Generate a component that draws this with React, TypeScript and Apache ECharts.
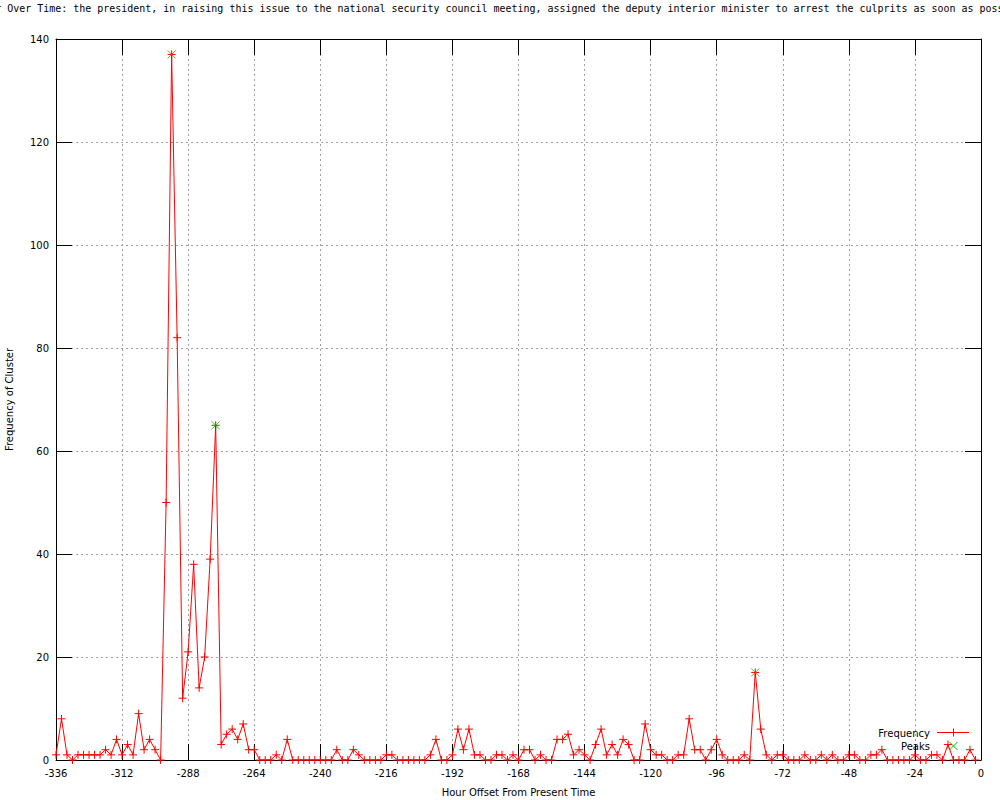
import React, { useEffect, useRef } from "react";
import * as echarts from "echarts";

const TITLE =
  "Cluster Over Time: the president, in raising this issue to the national security council meeting, assigned the deputy interior minister to arrest the culprits as soon as possible";
const X_LABEL = "Hour Offset From Present Time";
const Y_LABEL = "Frequency of Cluster";
const SERIES_NAMES = ["Frequency", "Peaks"];

const HOURS = [
  -336, -334, -332, -330, -328, -326, -324, -322, -320, -318, -316, -314, -312, -310, -308, -306,
  -304, -302, -300, -298, -296, -294, -292, -290, -288, -286, -284, -282, -280, -278, -276, -274,
  -272, -270, -268, -266, -264, -262, -260, -258, -256, -254, -252, -250, -248, -246, -244, -242,
  -240, -238, -236, -234, -232, -230, -228, -226, -224, -222, -220, -218, -216, -214, -212, -210,
  -208, -206, -204, -202, -200, -198, -196, -194, -192, -190, -188, -186, -184, -182, -180, -178,
  -176, -174, -172, -170, -168, -166, -164, -162, -160, -158, -156, -154, -152, -150, -148, -146,
  -144, -142, -140, -138, -136, -134, -132, -130, -128, -126, -124, -122, -120, -118, -116, -114,
  -112, -110, -108, -106, -104, -102, -100, -98, -96, -94, -92, -90, -88, -86, -84, -82,
  -80, -78, -76, -74, -72, -70, -68, -66, -64, -62, -60, -58, -56, -54, -52, -50,
  -48, -46, -44, -42, -40, -38, -36, -34, -32, -30, -28, -26, -24, -22, -20, -18,
  -16, -14, -12, -10, -8, -6, -4, -2,
];

const FREQUENCY = [
  1, 8, 1, 0, 1, 1, 1, 1, 1, 2, 1, 4, 1, 3, 1, 9,
  2, 4, 2, 0, 50, 137, 82, 12, 21, 38, 14, 20, 39, 65, 3, 5,
  6, 4, 7, 2, 2, 0, 0, 0, 1, 0, 4, 0, 0, 0, 0, 0,
  0, 0, 0, 2, 0, 0, 2, 1, 0, 0, 0, 0, 1, 1, 0, 0,
  0, 0, 0, 0, 1, 4, 0, 0, 1, 6, 2, 6, 1, 1, 0, 0,
  1, 1, 0, 1, 0, 2, 2, 0, 1, 0, 0, 4, 4, 5, 1, 2,
  1, 0, 3, 6, 1, 3, 1, 4, 3, 0, 0, 7, 2, 1, 1, 0,
  0, 1, 1, 8, 2, 2, 0, 2, 4, 1, 0, 0, 0, 1, 0, 17,
  6, 1, 0, 1, 1, 0, 0, 0, 1, 0, 0, 1, 0, 1, 0, 0,
  1, 1, 0, 0, 1, 1, 2, 0, 0, 0, 0, 0, 1, 0, 0, 1,
  1, 0, 3, 0, 0, 0, 2, 0,
];

const PEAK_HOURS = [-294, -278, -82];
const PEAK_VALUES = [137, 65, 17];

const X_MIN = -336;
const X_MAX = 0;
const X_STEP = 24;
const Y_MIN = 0;
const Y_MAX = 140;
const Y_STEP = 20;

const RED = "#ff0000";
const GREEN = "#00c000";
const PLUS = "path://M0,4L8,4M4,0L4,8";
const CROSS = "path://M0,0L8,8M8,0L0,8";
const LABEL_FONT = "DejaVu Sans";

export default function App() {
  const ref = useRef<HTMLDivElement>(null);

  useEffect(() => {
    if (!ref.current) return;
    const chart = echarts.init(ref.current, undefined, { renderer: "svg" });

    const freqData = HOURS.map((h, i) => [h, FREQUENCY[i]]);
    const peakData = PEAK_HOURS.map((h, i) => [h, PEAK_VALUES[i]]);

    const tickStyle = { show: true, inside: true, length: 16, lineStyle: { color: "#000", width: 1 } };
    const axisLine = { show: true, onZero: false, lineStyle: { color: "#000", width: 1 } };
    const grid = { show: true, lineStyle: { color: "#a0a0a0", width: 1, type: [2, 3] as any } };

    chart.setOption({
      animation: false,
      backgroundColor: "#ffffff",
      grid: {
        left: 56,
        right: 19,
        top: 39,
        bottom: 40,
        containLabel: false,
        outerBoundsMode: "none",
      },
      xAxis: [
        {
          type: "value",
          min: X_MIN,
          max: X_MAX,
          interval: X_STEP,
          position: "bottom",
          axisLine,
          axisTick: tickStyle,
          splitLine: grid,
          axisLabel: { color: "#000", fontFamily: LABEL_FONT, fontSize: 10, margin: 8 },
          name: X_LABEL,
          nameLocation: "middle",
          nameGap: 27,
          nameTextStyle: { color: "#000", fontFamily: LABEL_FONT, fontSize: 10 },
        },
        {
          type: "value",
          min: X_MIN,
          max: X_MAX,
          interval: X_STEP,
          position: "top",
          axisLine,
          axisTick: tickStyle,
          splitLine: { show: false },
          axisLabel: { show: false },
        },
      ],
      yAxis: [
        {
          type: "value",
          min: Y_MIN,
          max: Y_MAX,
          interval: Y_STEP,
          position: "left",
          axisLine,
          axisTick: tickStyle,
          splitLine: grid,
          axisLabel: { color: "#000", fontFamily: LABEL_FONT, fontSize: 10, margin: 7 },
          name: Y_LABEL,
          nameLocation: "middle",
          nameGap: 42,
          nameTextStyle: { color: "#000", fontFamily: LABEL_FONT, fontSize: 10 },
        },
        {
          type: "value",
          min: Y_MIN,
          max: Y_MAX,
          interval: Y_STEP,
          position: "right",
          axisLine,
          axisTick: tickStyle,
          splitLine: { show: false },
          axisLabel: { show: false },
        },
      ],
      series: [
        {
          name: SERIES_NAMES[0],
          type: "line",
          data: freqData,
          xAxisIndex: 0,
          yAxisIndex: 0,
          symbol: PLUS,
          symbolSize: 8,
          showSymbol: true,
          lineStyle: { color: RED, width: 1 },
          itemStyle: { color: RED, borderColor: RED, borderWidth: 1 },
          emphasis: { disabled: true },
          z: 3,
        },
        {
          name: SERIES_NAMES[1],
          type: "scatter",
          data: peakData,
          xAxisIndex: 0,
          yAxisIndex: 0,
          symbol: CROSS,
          symbolSize: 8,
          itemStyle: { color: GREEN, borderColor: GREEN, borderWidth: 1 },
          emphasis: { disabled: true },
          z: 4,
        },
      ],
      graphic: [
        {
          type: "text",
          x: -40.7,
          y: 8,
          style: {
            text: TITLE,
            font: '9.97px "DejaVu Sans Mono"',
            fill: "#000",
            textAlign: "left",
            textVerticalAlign: "middle",
          },
        },
        {
          type: "text",
          x: 930,
          y: 733,
          style: {
            text: SERIES_NAMES[0],
            font: `10px "${LABEL_FONT}"`,
            fill: "#000",
            textAlign: "right",
            textVerticalAlign: "middle",
          },
        },
        { type: "line", shape: { x1: 937, y1: 732.5, x2: 969, y2: 732.5 }, style: { stroke: RED, lineWidth: 1 } },
        { type: "line", shape: { x1: 953.5, y1: 728.5, x2: 953.5, y2: 736.5 }, style: { stroke: RED, lineWidth: 1 } },
        {
          type: "text",
          x: 930,
          y: 746,
          style: {
            text: SERIES_NAMES[1],
            font: `10px "${LABEL_FONT}"`,
            fill: "#000",
            textAlign: "right",
            textVerticalAlign: "middle",
          },
        },
        { type: "line", shape: { x1: 949.5, y1: 742, x2: 957.5, y2: 750 }, style: { stroke: GREEN, lineWidth: 1 } },
        { type: "line", shape: { x1: 957.5, y1: 742, x2: 949.5, y2: 750 }, style: { stroke: GREEN, lineWidth: 1 } },
      ],
    });

    return () => chart.dispose();
  }, []);

  return (
    <div
      ref={ref}
      style={{ position: "absolute", left: 0, top: 0, width: 1000, height: 800, background: "#fff" }}
    />
  );
}
